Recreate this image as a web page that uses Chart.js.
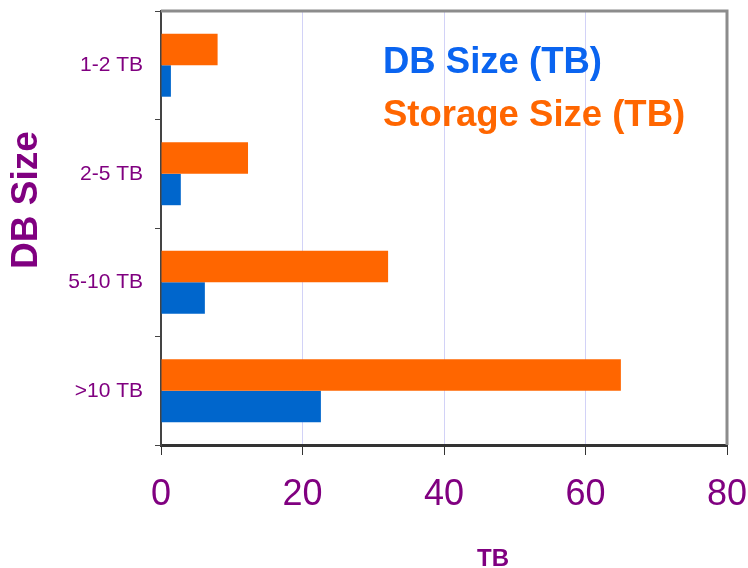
<!DOCTYPE html>
<html>
<head>
<meta charset="utf-8">
<script src="https://cdn.jsdelivr.net/npm/chart.js@4.4.1/dist/chart.umd.min.js"></script>
<style>
  html, body { margin: 0; padding: 0; background: #fff; }
</style>
</head>
<body>
<canvas id="chart" width="748" height="568"></canvas>
<script>
// values (TB)
const categories = ['1-2 TB', '2-5 TB', '5-10 TB', '>10 TB'];
const dbSize = [1.4, 2.8, 6.2, 22.6];
const storageSize = [8.0, 12.3, 32.1, 65.0];
const xTicks = [0, 20, 40, 60, 80];

const PURPLE = '#800080';
const SANS = "'Liberation Sans', Arial, sans-serif";

// frame, text legend and axis titles
const decorPlugin = {
    id: 'decor',
    afterDraw(chart) {
        const ctx = chart.ctx;
        const a = chart.chartArea;
        ctx.save();

        // grey top + right frame
        ctx.strokeStyle = '#8c8c8c';
        ctx.lineWidth = 3;
        ctx.beginPath();
        ctx.moveTo(a.left, a.top);
        ctx.lineTo(a.right, a.top);
        ctx.lineTo(a.right, a.bottom);
        ctx.stroke();

        // legend: text only, DB Size first
        ctx.font = 'bold 36.5px ' + SANS;
        ctx.textAlign = 'left';
        ctx.textBaseline = 'alphabetic';
        const order = [1, 0];
        order.forEach((di, i) => {
            const ds = chart.data.datasets[di];
            ctx.fillStyle = ds.legendColor;
            ctx.fillText(ds.label, 383, 73 + i * 53);
        });

        // y title
        ctx.fillStyle = PURPLE;
        ctx.font = 'bold 37px ' + SANS;
        ctx.textAlign = 'center';
        ctx.textBaseline = 'middle';
        ctx.translate(27, 200);
        ctx.rotate(-Math.PI / 2);
        ctx.fillText('DB Size', 0, 0);
        ctx.restore();

        // x title
        ctx.save();
        ctx.fillStyle = PURPLE;
        ctx.font = 'bold 24px ' + SANS;
        ctx.textAlign = 'center';
        ctx.textBaseline = 'alphabetic';
        ctx.fillText('TB', 493, 566);
        ctx.restore();
    }
};

new Chart(document.getElementById('chart'), {
    type: 'bar',
    data: {
        labels: categories,
        datasets: [{
            label: 'Storage Size (TB)',
            data: storageSize,
            backgroundColor: '#ff6600',
            legendColor: '#ff6600'
        }, {
            label: 'DB Size (TB)',
            data: dbSize,
            backgroundColor: '#0066cc',
            legendColor: '#0a64f0'
        }]
    },
    options: {
        indexAxis: 'y',
        responsive: false,
        animation: false,
        devicePixelRatio: 1,
        layout: { padding: { top: 11, right: 21, bottom: 0, left: 0 } },
        datasets: {
            bar: { barPercentage: 1, categoryPercentage: 0.58 }
        },
        plugins: {
            legend: { display: false },
            tooltip: { enabled: false }
        },
        scales: {
            x: {
                min: 0,
                max: 80,
                afterBuildTicks: scale => { scale.ticks = xTicks.map(v => ({ value: v })); },
                afterFit: scale => {
                    scale.height = 123;
                    scale.paddingLeft = 0;
                    scale.paddingRight = 0;
                },
                grid: {
                    color: '#d2d2f7',
                    lineWidth: 1,
                    tickLength: 10,
                    tickColor: '#333'
                },
                border: { color: '#333', width: 3 },
                ticks: {
                    color: PURPLE,
                    padding: 18,
                    font: { family: SANS, size: 36 }
                }
            },
            y: {
                afterFit: scale => {
                    scale.width = 161;
                    scale.paddingTop = 0;
                    scale.paddingBottom = 0;
                },
                grid: {
                    offset: true,
                    drawOnChartArea: false,
                    tickLength: 6,
                    color: '#444'
                },
                border: { color: '#444', width: 2 },
                ticks: {
                    color: PURPLE,
                    padding: 12,
                    font: { family: SANS, size: 21 }
                }
            }
        }
    },
    plugins: [decorPlugin]
});
</script>
</body>
</html>
